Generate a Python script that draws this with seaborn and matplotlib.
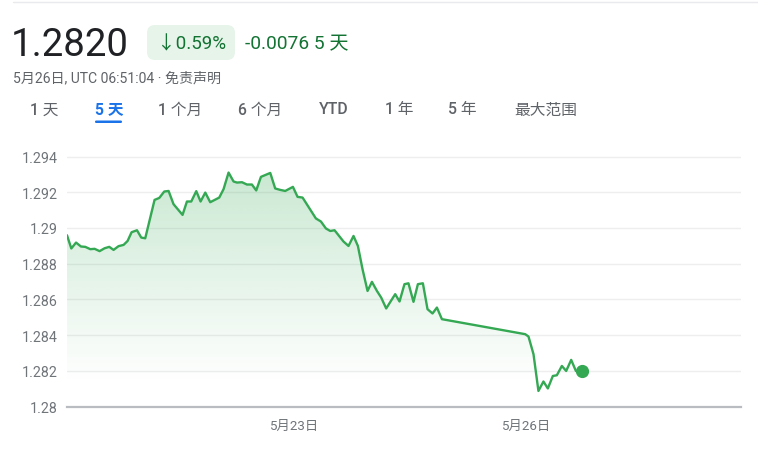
import numpy as np
import pandas as pd
import matplotlib
matplotlib.use("Agg")
import matplotlib.pyplot as plt
import seaborn as sns
from matplotlib.patches import FancyBboxPatch, Polygon
from matplotlib.colors import to_rgb
from matplotlib.transforms import IdentityTransform
from matplotlib.lines import Line2D

# ---------------- data (days since 5月20日 00:00, price) ----------------
days = [0.056, 0.112, 0.173, 0.237, 0.293, 0.358, 0.414, 0.479, 0.543, 0.604,
        0.660, 0.725, 0.790, 0.842, 0.894, 0.964, 1.019, 1.071, 1.192, 1.253,
        1.318, 1.374, 1.438, 1.555, 1.612, 1.668, 1.733, 1.789, 1.850, 1.914,
        2.031, 2.087, 2.152, 2.217, 2.261, 2.326, 2.390, 2.455, 2.511, 2.572,
        2.693, 2.757, 2.822, 2.887, 2.987, 3.047, 3.112, 3.285, 3.350, 3.415,
        3.471, 3.527, 3.643, 3.708, 3.773, 3.830, 3.890, 3.955, 4.012, 4.077,
        4.132, 4.197, 4.258, 4.314, 4.370, 4.434, 4.486, 4.551, 4.608, 4.673,
        4.733, 4.798, 4.855, 4.920, 6.000, 6.043, 6.108, 6.172, 6.237, 6.294,
        6.359, 6.411, 6.476, 6.532, 6.597, 6.658, 6.735]
price = [1.28959, 1.28885, 1.28918, 1.28896, 1.28894, 1.28881, 1.28883, 1.28870, 1.28886, 1.28894,
         1.28877, 1.28898, 1.28905, 1.28927, 1.28976, 1.28987, 1.28946, 1.28942, 1.29157, 1.29168,
         1.29204, 1.29207, 1.29133, 1.29073, 1.29148, 1.29148, 1.29206, 1.29148, 1.29198, 1.29144,
         1.29170, 1.29217, 1.29310, 1.29260, 1.29254, 1.29256, 1.29243, 1.29243, 1.29210, 1.29286,
         1.29308, 1.29221, 1.29213, 1.29207, 1.29230, 1.29174, 1.29170, 1.29053, 1.29036, 1.28997,
         1.28983, 1.28987, 1.28924, 1.28899, 1.28955, 1.28899, 1.28769, 1.28647, 1.28698, 1.28647,
         1.28610, 1.28549, 1.28591, 1.28629, 1.28588, 1.28685, 1.28690, 1.28586, 1.28685, 1.28690,
         1.28545, 1.28521, 1.28554, 1.28489, 1.28405, 1.28392, 1.28293, 1.28087, 1.28140, 1.28101,
         1.28171, 1.28175, 1.28227, 1.28199, 1.28261, 1.28199, 1.28200]

y_ticks = [1.280, 1.282, 1.284, 1.286, 1.288, 1.290, 1.292, 1.294]
y_tick_labels = ["1.28", "1.282", "1.284", "1.286", "1.288", "1.29", "1.292", "1.294"]
x_ticks = [3.0, 6.0]
x_tick_labels = ["5月23日", "5月26日"]

last_price = "1.2820"
change_pct = "↓0.59%"
change_abs = "-0.0076 5 天"
timestamp = "5月26日, UTC 06:51:04 · 免责声明"
tabs = ["1 天", "5 天", "1 个月", "6 个月", "YTD", "1 年", "5 年", "最大范围"]
active_tab = "5 天"

# ---------------- style ----------------
sns.set_theme(style="white")
plt.rcParams['font.family'] = ['Roboto', 'Noto Sans CJK SC', 'DejaVu Sans']

W, H = 758, 460
GREEN = "#34a853"
fig = plt.figure(figsize=(W / 100, H / 100), dpi=100)
fig.patch.set_facecolor("white")


def fx(x):
    return x / W


def fy(y):
    return 1 - y / H


xmin, xmax = days[0], 8.80
ymin, ymax = 1.280, 1.2955
px_per_unit = 17857.0
ax_h = (ymax - ymin) * px_per_unit
ax = fig.add_axes([fx(67), 52.5 / H, (741 - 67) / W, ax_h / H])
ax.set_facecolor("white")

df = pd.DataFrame({"day": days, "price": price})
sns.lineplot(data=df, x="day", y="price", ax=ax, color=GREEN, lw=1.7, zorder=4)
ax.plot([days[-1]], [price[-1]], "o", color=GREEN, ms=8.5, zorder=5)

# gradient fill under the line
n = 400
yy = np.linspace(ymin, ymax, n)
alpha = 0.26 * np.clip((yy - 1.2813) / (1.2931 - 1.2813), 0, 1)
rgba = np.zeros((n, 1, 4))
rgba[..., :3] = to_rgb(GREEN)
rgba[:, 0, 3] = alpha
im = ax.imshow(rgba, extent=[xmin, xmax, ymin, ymax], origin="lower",
               aspect="auto", zorder=2, interpolation="bilinear")
poly = Polygon(list(zip(days, price)) + [(days[-1], ymin), (days[0], ymin)],
               closed=True, transform=ax.transData, facecolor="none", edgecolor="none")
ax.add_patch(poly)
im.set_clip_path(poly)

ax.set_xlim(xmin, xmax)
ax.set_ylim(ymin, ymax)
ax.set_yticks(y_ticks)
ax.set_yticklabels(y_tick_labels)
ax.set_xticks(x_ticks)
ax.set_xticklabels(x_tick_labels)
ax.set_xlabel("")
ax.set_ylabel("")
ax.grid(axis="y", color="#eeeeee", lw=1.0, zorder=0)
ax.grid(axis="x", visible=False)
for s in ["top", "right", "left"]:
    ax.spines[s].set_visible(False)
ax.spines["bottom"].set_color("#b9bcc0")
ax.spines["bottom"].set_linewidth(1.6)
ax.spines["bottom"].set_zorder(6)
ax.tick_params(axis="y", length=0, pad=7, labelsize=10.3, labelcolor="#70757a")
ax.tick_params(axis="x", direction="out", length=4, width=1.6, color="#5f6368",
               pad=5, labelsize=9.6, labelcolor="#70757a")

# ---------------- header ----------------
fig.add_artist(Line2D([fx(13), 1], [fy(3), fy(3)], color="#e8eaed", lw=1,
                      transform=fig.transFigure))
fig.text(fx(11), fy(45), last_price, fontsize=27.6, color="#202124", va="center", ha="left")

badge = FancyBboxPatch((147, H - 61), 88, 35,
                       boxstyle="round,pad=0,rounding_size=8",
                       transform=IdentityTransform(), facecolor="#e6f4ea", edgecolor="none")
fig.add_artist(badge)
fig.text(fx(157), fy(44), change_pct, fontsize=13.5, color="#137333", va="center", ha="left")
fig.text(fx(245), fy(44), change_abs, fontsize=13.8, color="#137333", va="center", ha="left")

fig.text(fx(13), fy(78), timestamp, fontsize=10.1, color="#5f6368", va="center", ha="left")

tab_x = [30, 95, 158, 238, 319, 385, 448, 514]
for t, x in zip(tabs, tab_x):
    if t == active_tab:
        fig.text(fx(x), fy(110), t, fontsize=11.3, color="#1a73e8", va="center", ha="left",
                 fontweight="bold")
        ul = FancyBboxPatch((95, H - 124), 27, 2.5, boxstyle="round,pad=0,rounding_size=1.2",
                            transform=IdentityTransform(), facecolor="#1a73e8", edgecolor="none")
        fig.add_artist(ul)
    else:
        fig.text(fx(x), fy(110), t, fontsize=11.3, color="#5f6368", va="center", ha="left",
                 fontweight=500)

fig.savefig("out.png", dpi=100, facecolor="white")
